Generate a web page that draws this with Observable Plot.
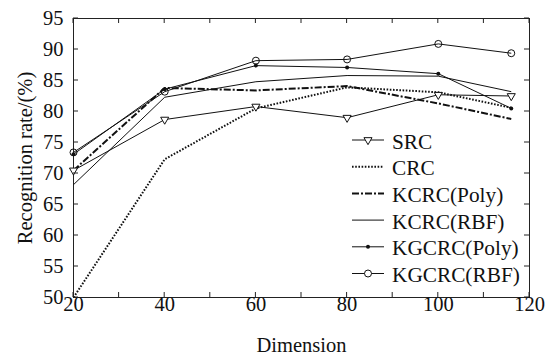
<!DOCTYPE html>
<html><head><meta charset="utf-8">
<script src="https://cdn.jsdelivr.net/npm/d3@7"></script>
<script src="https://cdn.jsdelivr.net/npm/@observablehq/plot@0.6"></script>
<style>body{margin:0;background:#fff}</style>
</head><body><div id="chart"></div>
<script>
// ---- data ----
const dims = [20, 40, 60, 80, 100, 116];
const seriesNames = ["SRC", "CRC", "KCRC(Poly)", "KCRC(RBF)", "KGCRC(Poly)", "KGCRC(RBF)"];
const srcVals       = [70.5, 78.7, 80.8, 79.0, 82.7, 82.5];
const crcVals       = [50.0, 72.3, 80.5, 83.9, 83.1, 80.6];
const kcrcPolyVals  = [70.5, 83.8, 83.4, 84.1, 81.3, 78.8];
const kcrcRbfVals   = [68.2, 82.3, 84.8, 85.8, 85.7, 83.2];
const kgcrcPolyVals = [73.1, 83.6, 87.4, 87.1, 86.1, 80.5];
const kgcrcRbfVals  = [73.4, 83.2, 88.2, 88.4, 90.9, 89.4];
const xTicks = [20, 40, 60, 80, 100, 120];
const xMinorTicks = [20, 30, 40, 50, 60, 70, 80, 90, 100, 110, 120];
const yTicks = [50, 55, 60, 65, 70, 75, 80, 85, 90, 95];
const xLabel = "Dimension";
const yLabel = "Recognition rate/(%)";

// ---- styles ----
const styles = {
  "SRC":         {sw: 1, dash: null, marker: "triangle"},
  "CRC":         {sw: 2, dash: "1.6,1.6", marker: null},
  "KCRC(Poly)":  {sw: 2, dash: "7,2,2,2", marker: null},
  "KCRC(RBF)":   {sw: 1, dash: null, marker: null},
  "KGCRC(Poly)": {sw: 1, dash: null, marker: "dot"},
  "KGCRC(RBF)":  {sw: 1, dash: null, marker: "circle"}
};
const valuesBy = {
  "SRC": srcVals, "CRC": crcVals, "KCRC(Poly)": kcrcPolyVals,
  "KCRC(RBF)": kcrcRbfVals, "KGCRC(Poly)": kgcrcPolyVals, "KGCRC(RBF)": kgcrcRbfVals
};
const rows = seriesNames.flatMap(s => dims.map((d, i) => ({series: s, dim: d, value: valuesBy[s][i]})));

const font = "'Liberation Serif', 'Times New Roman', serif";
const marks = [Plot.frame({stroke: "#222", strokeWidth: 1})];
for (const s of seriesNames) {
  const st = styles[s];
  marks.push(Plot.line(rows.filter(r => r.series === s), {
    x: "dim", y: "value", stroke: "#111", strokeWidth: st.sw,
    strokeDasharray: st.dash, strokeLinecap: "butt", strokeLinejoin: "miter"
  }));
}
marks.push(Plot.dot(rows.filter(r => r.series === "SRC"), {x: "dim", y: "value", symbol: "triangle", rotate: 180, r: 3, fill: "white", stroke: "#111", strokeWidth: 1}));
marks.push(Plot.dot(rows.filter(r => r.series === "KGCRC(Poly)"), {x: "dim", y: "value", r: 2, fill: "#111", stroke: "none"}));
marks.push(Plot.dot(rows.filter(r => r.series === "KGCRC(RBF)"), {x: "dim", y: "value", r: 3.5, fill: "none", stroke: "#111", strokeWidth: 1}));
marks.push(Plot.axisX(xTicks, {anchor: "bottom", tickSize: 0, tickPadding: -1, fontSize: 20.5, label: null}));
marks.push(Plot.axisY(yTicks, {anchor: "left", tickSize: 0, tickPadding: 10, fontSize: 20.5, label: null}));
marks.push(Plot.text([xLabel], {frameAnchor: "bottom", dy: 54, fontSize: 20.5, textAnchor: "middle", text: d => d}));
marks.push(Plot.text([yLabel], {frameAnchor: "left", dx: -48, rotate: -90, fontSize: 20.5, textAnchor: "middle", text: d => d}));

const chart = Plot.plot({
  width: 551, height: 360,
  marginLeft: 73, marginRight: 22, marginTop: 18, marginBottom: 63,
  x: {domain: [20, 120]},
  y: {domain: [50, 95]},
  style: {fontFamily: font, fontSize: "20px", background: "white", color: "#111"},
  marks
});
document.getElementById("chart").appendChild(chart);

// ---- inward ticks on all four sides ----
const svg = d3.select(chart);
const sx = chart.scale("x"), sy = chart.scale("y");
const x0 = sx.apply(20), x1 = sx.apply(120), yb = sy.apply(50), yt = sy.apply(95);
const tg = svg.append("g").attr("stroke", "#222").attr("stroke-width", 1);
for (const v of xMinorTicks) {
  const x = sx.apply(v);
  tg.append("line").attr("x1", x).attr("x2", x).attr("y1", yb).attr("y2", yb - 5);
  tg.append("line").attr("x1", x).attr("x2", x).attr("y1", yt).attr("y2", yt + 5);
}
for (const v of yTicks) {
  const y = sy.apply(v);
  tg.append("line").attr("x1", x0).attr("x2", x0 + 5).attr("y1", y).attr("y2", y);
  tg.append("line").attr("x1", x1).attr("x2", x1 - 5).attr("y1", y).attr("y2", y);
}

// ---- legend ----
const lg = svg.append("g").attr("font-family", font).attr("font-size", 21.3)
  .attr("fill", "#111").attr("text-anchor", "start");
const lx0 = 352, lx1 = 384, ltx = 392, ly0 = 140, ldy = 26.7;
seriesNames.forEach((s, i) => {
  const st = styles[s];
  const y = ly0 + i * ldy;
  lg.append("line").attr("x1", lx0).attr("x2", lx1).attr("y1", y).attr("y2", y)
    .attr("stroke", "#111").attr("stroke-width", st.sw).attr("stroke-dasharray", st.dash);
  const cx = (lx0 + lx1) / 2;
  if (st.marker === "triangle") {
    lg.append("path").attr("d", d3.symbol(d3.symbolTriangle, Math.PI * 9)())
      .attr("transform", `translate(${cx},${y}) rotate(180)`).attr("fill", "white").attr("stroke", "#111");
  } else if (st.marker === "dot") {
    lg.append("circle").attr("cx", cx).attr("cy", y).attr("r", 2).attr("fill", "#111");
  } else if (st.marker === "circle") {
    lg.append("circle").attr("cx", cx).attr("cy", y).attr("r", 3.5).attr("fill", "white").attr("stroke", "#111");
  }
  lg.append("text").attr("x", ltx).attr("y", y).attr("dy", "0.4em").attr("text-anchor", "start").text(s);
});
</script>
</body></html>
